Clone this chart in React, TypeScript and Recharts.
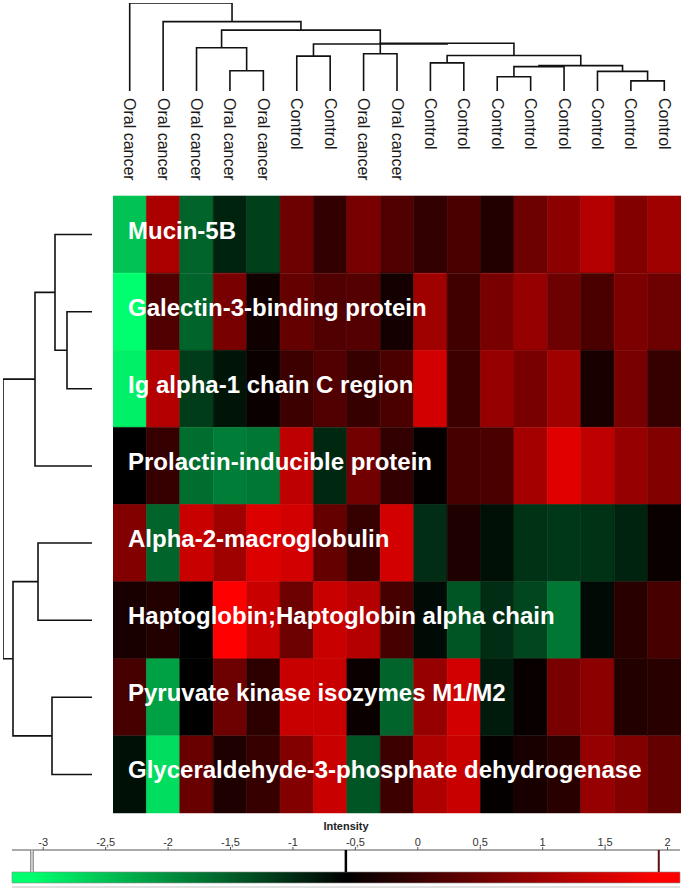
import React from 'react';
import { BarChart, Bar, Cell, XAxis, YAxis, ScatterChart, Scatter, ReferenceArea, ReferenceLine } from 'recharts';

const W = 685;
const H = 891;
const FONT = '"Liberation Sans", Arial, sans-serif';

const samples = [
  'Oral cancer', 'Oral cancer', 'Oral cancer', 'Oral cancer', 'Oral cancer',
  'Control', 'Control', 'Oral cancer', 'Oral cancer',
  'Control', 'Control', 'Control', 'Control', 'Control', 'Control', 'Control', 'Control',
];

const proteins = [
  'Mucin-5B',
  'Galectin-3-binding protein',
  'Ig alpha-1 chain C region',
  'Prolactin-inducible protein',
  'Alpha-2-macroglobulin',
  'Haptoglobin;Haptoglobin alpha chain',
  'Pyruvate kinase isozymes M1/M2',
  'Glyceraldehyde-3-phosphate dehydrogenase',
];

// log intensity per sample, same column order as samples
const mucin5B = [-2.5, 1.09, -1.56, -0.92, -1.22, 0.5, -0.08, 0.6, 0.21, -0.08, 0.16, -0.23, 0.5, 0.8, 1.19, 0.7, 0.99];
const galectin3BP = [-3.09, 0.21, -1.56, 0.6, -0.42, 0.41, 0.21, 0.26, -0.38, 0.99, 0.06, 0.6, 0.9, 0.5, 0.16, 0.65, 0.5];
const igAlpha1 = [-2.94, 1.19, -1.17, -0.77, -0.48, 0.01, 0.21, -0.04, 0.16, 1.49, 0.01, 0.9, 0.6, 0.99, -0.33, 0.6, -0.04];
const prolactinIP = [-0.58, -0.04, -1.66, -1.81, -1.76, 1.29, -0.97, 0.55, -0.08, -0.53, 0.11, 0.16, 1.04, 1.64, 1.29, 0.9, 0.7];
const alpha2M = [0.7, -1.56, 1.39, 0.99, 1.59, 1.49, 0.41, -0.04, 1.49, -1.02, -0.28, -0.73, -1.07, -1.12, -1.07, -0.92, -0.48];
const haptoglobin = [-0.33, -0.23, -0.58, 1.93, 1.39, 0.5, 1.39, 1.19, 0.11, -0.68, -1.41, -1.02, -1.27, -1.76, -0.68, -0.18, 0.11];
const pyruvateKinase = [0.11, -2.15, -0.58, 0.5, -0.13, 1.39, 1.39, -0.48, -1.56, 0.9, 1.49, -0.83, -0.5, 0.6, 0.8, -0.23, -0.18];
const gapdh = [-0.73, -2.75, 0.45, -0.28, -0.04, 0.7, 1.39, -1.41, 0.01, 1.14, 1.39, -0.53, -0.33, -0.18, 0.9, 0.7, 0.41];

const intensity = [mucin5B, galectin3BP, igAlpha1, prolactinIP, alpha2M, haptoglobin, pyruvateKinase, gapdh];

// hierarchical clustering: [child a, child b, merge distance]; leaves first, then merged nodes in order
const sampleMerges: [number, number, number][] = [
  [3, 4, 60], [2, 17, 128], [5, 6, 103], [7, 8, 110], [9, 10, 83],
  [11, 12, 42], [22, 13, 72], [15, 16, 30], [14, 24, 58], [23, 25, 75],
  [21, 26, 105], [20, 27, 141], [19, 28, 139], [18, 29, 180], [1, 30, 205], [0, 31, 260],
];
const proteinMerges: [number, number, number][] = [
  [1, 2, 25], [0, 8, 37], [9, 3, 57], [4, 5, 54], [6, 7, 40], [11, 12, 79], [10, 13, 89],
];

const scaleTicks = [-3, -2.5, -2, -1.5, -1, -0.5, 0, 0.5, 1, 1.5, 2];
const scaleRange = [-3.25, 2.1];
const scaleMarkers = [-3.09, -0.576, 1.93]; // min, mid, max of the colour map

const [LO, MID, HI] = scaleMarkers;

function heatColor(v: number) {
  if (v < MID) {
    const t = Math.min(1, (MID - v) / (MID - LO));
    return `rgb(0,${Math.round(255 * t)},${Math.round(110 * t)})`;
  }
  const t = Math.min(1, (v - MID) / (HI - MID));
  return `rgb(${Math.round(255 * t)},0,0)`;
}

function buildTree(nLeaves: number, merges: [number, number, number][]) {
  const pos = Array.from({ length: nLeaves }, (_, i) => i + 0.5);
  const dist = Array(nLeaves).fill(0);
  return merges.map(([a, b, h]) => {
    const seg = [
      { p: pos[a], d: dist[a] },
      { p: pos[a], d: h },
      { p: pos[b], d: h },
      { p: pos[b], d: dist[b] },
    ];
    pos.push((pos[a] + pos[b]) / 2);
    dist.push(h);
    return seg;
  });
}

const heatRows = proteins.map((protein) => {
  const row: Record<string, string | number> = { protein };
  samples.forEach((_, j) => (row[`w${j}`] = 1));
  return row;
});
const sampleTicks = samples.map((_, j) => j + 0.5);
const sampleTree = buildTree(samples.length, sampleMerges);
const proteinTree = buildTree(proteins.length, proteinMerges);

const layer: React.CSSProperties = { position: 'absolute', left: 0, top: 0 };
const noDot = () => <g />;
const treeLine = { stroke: '#111', strokeWidth: 1.6 };

const SampleTick = (props: any) => {
  const { x, y, index } = props;
  return (
    <text transform={`translate(${x},${y - 98}) rotate(90)`} textAnchor="start" dominantBaseline="central"
      fontSize={16} fontFamily={FONT} fill="#1a1a1a">
      {samples[index]}
    </text>
  );
};

const ProteinTick = (props: any) => {
  const { x, y, payload } = props;
  return (
    <text x={x + 15} y={y + 4} textAnchor="start" fontSize={24} fontWeight="bold" fontFamily={FONT} fill="#fff">
      {payload.value}
    </text>
  );
};

export default function App() {
  const span = scaleRange[1] - scaleRange[0];
  return (
    <div style={{ position: 'absolute', left: 0, top: 0, width: W, height: H, background: '#fff' }}>
      <div style={layer}>
        <ScatterChart width={W} height={H} margin={{ top: 3, right: 4, bottom: H - 91, left: 113 }}>
          <XAxis type="number" dataKey="p" hide domain={[0, samples.length]} allowDataOverflow />
          <YAxis type="number" dataKey="d" hide domain={[0, 260]} allowDataOverflow />
          {sampleTree.map((seg, k) => (
            <Scatter key={k} data={seg} line={treeLine} shape={noDot} isAnimationActive={false} />
          ))}
        </ScatterChart>
      </div>

      <div style={layer}>
        <ScatterChart width={W} height={H} margin={{ top: 196, right: W - 92, bottom: 78, left: 3 }}>
          <XAxis type="number" dataKey="d" hide reversed domain={[0, 89]} allowDataOverflow />
          <YAxis type="number" dataKey="p" hide reversed domain={[0, proteins.length]} allowDataOverflow />
          {proteinTree.map((seg, k) => (
            <Scatter key={k} data={seg} line={treeLine} shape={noDot} isAnimationActive={false} />
          ))}
        </ScatterChart>
      </div>

      <div style={layer}>
        <BarChart width={W} height={H} data={heatRows} layout="vertical" barCategoryGap={0} barGap={0}
          margin={{ top: 100, right: 4, bottom: 78, left: 53 }}>
          <XAxis type="number" orientation="top" domain={[0, samples.length]} allowDataOverflow ticks={sampleTicks}
            interval={0} height={96} axisLine={false} tickLine={false} tickSize={0} tickMargin={0} tick={SampleTick} />
          {samples.map((_, j) => (
            <Bar key={j} dataKey={`w${j}`} stackId="cells" isAnimationActive={false}>
              {intensity.map((row, i) => (
                <Cell key={i} fill={heatColor(row[j])} stroke={heatColor(row[j])} strokeWidth={0.6} />
              ))}
            </Bar>
          ))}
          <YAxis type="category" dataKey="protein" width={60} axisLine={false} tickLine={false}
            tickSize={0} tickMargin={0} interval={0} tick={ProteinTick} />
        </BarChart>
      </div>

      <div style={layer}>
        <ScatterChart width={W} height={H} margin={{ top: 820, right: 5, bottom: 2, left: 12 }}>
          <defs>
            <linearGradient id="intensityGrad" x1="0" x2="1" y1="0" y2="0">
              {[scaleRange[0], ...scaleMarkers, scaleRange[1]].map((v, i) => (
                <stop key={i} offset={(v - scaleRange[0]) / span} stopColor={heatColor(v)} />
              ))}
            </linearGradient>
          </defs>
          <XAxis type="number" dataKey="v" orientation="top" domain={scaleRange} allowDataOverflow ticks={scaleTicks}
            interval={0} height={30} tickSize={3} tickMargin={1} stroke="#555"
            tick={{ fontSize: 11, fill: '#333', fontFamily: FONT }}
            tickFormatter={(t: number) => String(t).replace('.', ',')}
            label={{ value: 'Intensity', position: 'insideTop', offset: 2, style: { fontWeight: 'bold', fontSize: 11, fill: '#222', fontFamily: FONT } }} />
          <YAxis type="number" dataKey="y" hide domain={[-0.55, 3]} allowDataOverflow />
          <ReferenceArea x1={scaleRange[0]} x2={scaleRange[1]} y1={0} y2={1} fill="url(#intensityGrad)"
            fillOpacity={1} stroke="#888" strokeWidth={0.6} />
          <ReferenceLine y={-0.36} stroke="#d6d6d6" strokeWidth={1.5} />
          <Scatter data={[{ v: LO, y: 1 }, { v: LO, y: 3 }]} line={{ stroke: '#777', strokeWidth: 3.5 }} shape={noDot} isAnimationActive={false} />
          <Scatter data={[{ v: LO, y: 1 }, { v: LO, y: 3 }]} line={{ stroke: '#fff', strokeWidth: 1.2 }} shape={noDot} isAnimationActive={false} />
          <Scatter data={[{ v: MID, y: 1 }, { v: MID, y: 3 }]} line={{ stroke: '#000', strokeWidth: 2.5 }} shape={noDot} isAnimationActive={false} />
          <Scatter data={[{ v: HI, y: 1 }, { v: HI, y: 3 }]} line={{ stroke: '#5a1010', strokeWidth: 2 }} shape={noDot} isAnimationActive={false} />
        </ScatterChart>
      </div>
    </div>
  );
}
